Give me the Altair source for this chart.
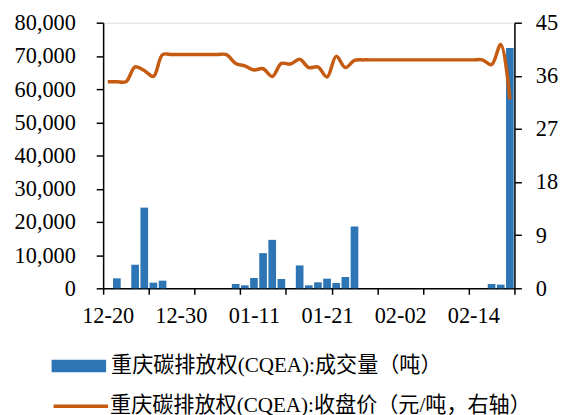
import altair as alt
import pandas as pd

# Trading days (weekdays) 2021-12-20 .. 2022-02-18
dates = ["12-20", "12-21", "12-22", "12-23", "12-24", "12-27", "12-28", "12-29", "12-30", "12-31",
         "01-03", "01-04", "01-05", "01-06", "01-07", "01-10", "01-11", "01-12", "01-13", "01-14",
         "01-17", "01-18", "01-19", "01-20", "01-21", "01-24", "01-25", "01-26", "01-27", "01-28",
         "01-31", "02-01", "02-02", "02-03", "02-04", "02-07", "02-08", "02-09", "02-10", "02-11",
         "02-14", "02-15", "02-16", "02-17", "02-18"]

volume = [0, 3000, 0, 7100, 24300, 1700, 2300, 0, 0, 0,
          0, 0, 0, 0, 1300, 900, 3100, 10600, 14600, 2800,
          0, 6900, 900, 1800, 2900, 1600, 3400, 18600, 0, 0,
          0, 0, 0, 0, 0, 0, 0, 0, 0, 0,
          0, 0, 1300, 1100, 72400]

price = [35.0, 35.0, 35.0, 37.5, 36.9, 35.9, 39.6, 39.6, 39.6, 39.6,
         39.6, 39.6, 39.6, 39.6, 38.1, 37.7, 37.0, 37.2, 35.9, 38.1,
         38.0, 38.8, 37.4, 37.5, 35.8, 39.3, 37.4, 38.6, 38.7, 38.7,
         38.7, 38.7, 38.7, 38.7, 38.7, 38.7, 38.7, 38.7, 38.7, 38.7,
         38.7, 38.7, 37.9, 41.3, 32.0]

tick_labels = ["12-20", "12-30", "01-11", "01-21", "02-02", "02-14"]
label_index = [0, 8, 16, 24, 32, 40]

vol_name = "重庆碳排放权(CQEA):成交量（吨）"
price_name = "重庆碳排放权(CQEA):收盘价（元/吨，右轴）"

df = pd.DataFrame({"i": list(range(len(dates))), "date": dates,
                   "volume": volume, "price": price})

n = len(dates)
tick_vals = list(range(0, n + 1, 5))
label_vals = [k + 0.5 for k in label_index]
arr_vals = "[" + ",".join(str(v) for v in label_vals) + "]"
arr_labs = "[" + ",".join("'" + s + "'" for s in tick_labels) + "]"
label_expr = (f"indexof({arr_vals}, datum.value) >= 0 ? "
              f"{arr_labs}[indexof({arr_vals}, datum.value)] : ''")

SERIF = "Liberation Serif"
LEG_FONT = "Liberation Serif, Noto Sans CJK SC"
BLUE = "#2E75B6"
ORANGE = "#C55A11"

xscale = alt.Scale(domain=[0, n], nice=False, zero=False)
xaxis = alt.Axis(values=tick_vals + label_vals, labelExpr=label_expr, title=None,
                 grid=False, labelOverlap=False, labelFlush=False,
                 tickOpacity={"condition": {"test": "datum.value % 1 == 0", "value": 1}, "value": 0},
                 tickSize=6, tickWidth=1.5, tickColor="black", domainColor="black",
                 domainWidth=1.5, labelPadding=11, labelFont=SERIF, labelFontSize=22.5,
                 labelColor="black")

base = alt.Chart(df)

bars = base.transform_calculate(
    x0="datum.i + 0.08", x1="datum.i + 0.92", zero="0", s="'" + vol_name + "'"
).mark_rect(color=BLUE).encode(
    x=alt.X("x0:Q", scale=xscale, axis=xaxis),
    x2="x1:Q",
    y=alt.Y("volume:Q", scale=alt.Scale(domain=[0, 80000], nice=False),
            axis=alt.Axis(values=list(range(0, 80001, 10000)),
                          labelExpr="format(datum.value, ',')", title=None,
                          grid=False, orient="left", tickSize=7, tickWidth=1.5,
                          tickColor="black", domainColor="black", domainWidth=1.5,
                          labelPadding=21, labelFont=SERIF, labelFontSize=22.5,
                          labelColor="black")),
    y2="zero:Q",
    color=alt.Color("s:N", scale=alt.Scale(domain=[vol_name], range=[BLUE]),
                    legend=alt.Legend(title=None, orient="none", legendX=-52, legendY=319,
                                      symbolType="M-1,-0.23H1V0.23H-1Z", symbolSize=3025,
                                      symbolStrokeWidth=0, symbolOpacity=1,
                                      labelFont=LEG_FONT, labelFontSize=21.3, labelOffset=5,
                                      labelColor="black", padding=0, labelLimit=600)),
)

line = base.transform_calculate(
    xc="datum.i + 0.5", p="'" + price_name + "'"
).mark_line(strokeWidth=3.5, interpolate="catmull-rom").encode(
    x=alt.X("xc:Q", scale=xscale, axis=xaxis),
    y=alt.Y("price:Q", scale=alt.Scale(domain=[0, 45], nice=False),
            axis=alt.Axis(values=list(range(0, 46, 9)), title=None, grid=False,
                          orient="right", tickSize=7, tickWidth=1.5, tickColor="black",
                          domainColor="black", domainWidth=1.5, labelPadding=14,
                          labelFont=SERIF, labelFontSize=22.5, labelColor="black")),
    stroke=alt.Stroke("p:N", scale=alt.Scale(domain=[price_name], range=[ORANGE]),
                      legend=alt.Legend(title=None, orient="none", legendX=-52, legendY=357.5,
                                        symbolType="stroke", symbolSize=3025,
                                        symbolStrokeWidth=3.5,
                                        labelFont=LEG_FONT, labelFontSize=21.3, labelOffset=0,
                                        labelColor="black", padding=0, labelLimit=600)),
)

chart = alt.layer(bars, line).resolve_scale(
    y="independent", color="independent", stroke="independent"
).properties(
    width=415, height=268,
    autosize=alt.AutoSizeParams(type="none"),
    padding={"left": 96, "top": 13, "right": 48, "bottom": 126},
).configure_view(stroke=None).configure(background="white")

chart.save("out.html", embed_options={"renderer": "svg", "actions": False})
